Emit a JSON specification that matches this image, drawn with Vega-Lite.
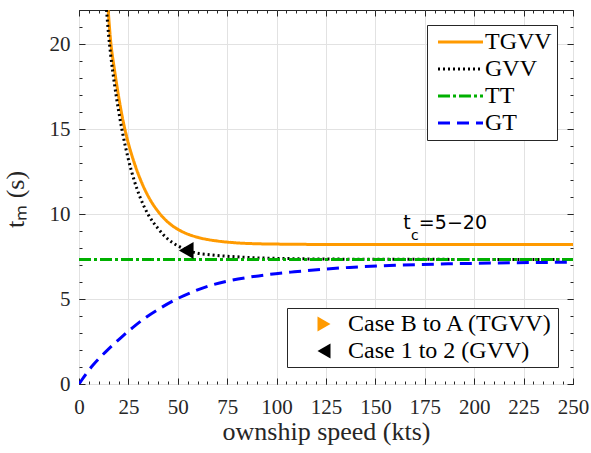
{
  "$schema": "https://vega.github.io/schema/vega-lite/v6.json",
  "width": 494,
  "height": 374,
  "autosize": "none",
  "padding": {"left": 79, "top": 10, "right": 18, "bottom": 69},
  "background": "#ffffff",
  "config": {
    "view": {"stroke": "#262626", "strokeWidth": 1},
    "axis": {
      "labelFont": "Liberation Serif",
      "titleFont": "Liberation Serif",
      "labelFontSize": 21,
      "titleFontSize": 26,
      "titleFontWeight": "normal",
      "labelColor": "#262626",
      "titleColor": "#262626",
      "tickColor": "#262626",
      "tickWidth": 1,
      "gridColor": "#e2e2e2",
      "gridWidth": 1,
      "domain": false,
      "labelFlush": false
    }
  },
  "datasets": {
    "curves": [
      {"speed": 14.4, "t": 22.6, "series": "TGVV"},
      {"speed": 16, "t": 20.2, "series": "TGVV"},
      {"speed": 18, "t": 18.45, "series": "TGVV"},
      {"speed": 20, "t": 16.95, "series": "TGVV"},
      {"speed": 22, "t": 15.65, "series": "TGVV"},
      {"speed": 25, "t": 14.15, "series": "TGVV"},
      {"speed": 28, "t": 13.0, "series": "TGVV"},
      {"speed": 31, "t": 12.05, "series": "TGVV"},
      {"speed": 35, "t": 11.05, "series": "TGVV"},
      {"speed": 40, "t": 10.15, "series": "TGVV"},
      {"speed": 45, "t": 9.52, "series": "TGVV"},
      {"speed": 50, "t": 9.1, "series": "TGVV"},
      {"speed": 55, "t": 8.82, "series": "TGVV"},
      {"speed": 60, "t": 8.63, "series": "TGVV"},
      {"speed": 65, "t": 8.5, "series": "TGVV"},
      {"speed": 70, "t": 8.41, "series": "TGVV"},
      {"speed": 80, "t": 8.3, "series": "TGVV"},
      {"speed": 90, "t": 8.25, "series": "TGVV"},
      {"speed": 100, "t": 8.23, "series": "TGVV"},
      {"speed": 125, "t": 8.21, "series": "TGVV"},
      {"speed": 150, "t": 8.21, "series": "TGVV"},
      {"speed": 200, "t": 8.21, "series": "TGVV"},
      {"speed": 250, "t": 8.21, "series": "TGVV"},
      {"speed": 13.5, "t": 22.6, "series": "GVV"},
      {"speed": 14, "t": 21.9, "series": "GVV"},
      {"speed": 15, "t": 20.5, "series": "GVV"},
      {"speed": 16, "t": 19.4, "series": "GVV"},
      {"speed": 18, "t": 17.6, "series": "GVV"},
      {"speed": 20, "t": 16.1, "series": "GVV"},
      {"speed": 22, "t": 14.8, "series": "GVV"},
      {"speed": 25, "t": 13.21, "series": "GVV"},
      {"speed": 28, "t": 11.95, "series": "GVV"},
      {"speed": 31, "t": 10.96, "series": "GVV"},
      {"speed": 35, "t": 9.97, "series": "GVV"},
      {"speed": 40, "t": 9.15, "series": "GVV"},
      {"speed": 45, "t": 8.52, "series": "GVV"},
      {"speed": 50, "t": 8.13, "series": "GVV"},
      {"speed": 55, "t": 7.86, "series": "GVV"},
      {"speed": 60, "t": 7.69, "series": "GVV"},
      {"speed": 65, "t": 7.62, "series": "GVV"},
      {"speed": 70, "t": 7.56, "series": "GVV"},
      {"speed": 80, "t": 7.48, "series": "GVV"},
      {"speed": 90, "t": 7.42, "series": "GVV"},
      {"speed": 100, "t": 7.39, "series": "GVV"},
      {"speed": 125, "t": 7.35, "series": "GVV"},
      {"speed": 150, "t": 7.34, "series": "GVV"},
      {"speed": 200, "t": 7.33, "series": "GVV"},
      {"speed": 250, "t": 7.33, "series": "GVV"},
      {"speed": 0, "t": 7.33, "series": "TT"},
      {"speed": 250, "t": 7.33, "series": "TT"},
      {"speed": 0, "t": 0, "series": "GT"},
      {"speed": 7, "t": 1.1, "series": "GT"},
      {"speed": 14, "t": 1.95, "series": "GT"},
      {"speed": 21, "t": 2.7, "series": "GT"},
      {"speed": 27, "t": 3.3, "series": "GT"},
      {"speed": 34, "t": 3.93, "series": "GT"},
      {"speed": 42, "t": 4.52, "series": "GT"},
      {"speed": 50, "t": 5.03, "series": "GT"},
      {"speed": 59, "t": 5.49, "series": "GT"},
      {"speed": 67, "t": 5.81, "series": "GT"},
      {"speed": 76, "t": 6.07, "series": "GT"},
      {"speed": 86, "t": 6.28, "series": "GT"},
      {"speed": 95, "t": 6.43, "series": "GT"},
      {"speed": 109, "t": 6.6, "series": "GT"},
      {"speed": 125, "t": 6.76, "series": "GT"},
      {"speed": 137, "t": 6.86, "series": "GT"},
      {"speed": 160, "t": 6.98, "series": "GT"},
      {"speed": 188, "t": 7.07, "series": "GT"},
      {"speed": 220, "t": 7.13, "series": "GT"},
      {"speed": 250, "t": 7.17, "series": "GT"}
    ],
    "cases": [
      {"speed": 54.25, "t": 7.86, "case": "Case 1 to 2 (GVV)"}
    ],
    "note": [
      {"speed": 164.1, "t": 9.13, "label": "t"},
      {"speed": 172.0, "t": 9.13, "label": "=5−20"}
    ],
    "noteSub": [
      {"speed": 168.0, "t": 8.45, "label": "c"}
    ]
  },
  "resolve": {"axis": {"x": "independent", "y": "independent"}},
  "layer": [
    {
      "data": {"name": "curves"},
      "mark": {"type": "line", "strokeWidth": 3, "clip": true, "interpolate": "monotone"},
      "encoding": {
        "x": {
          "field": "speed", "type": "quantitative",
          "scale": {"domain": [0, 250], "nice": false, "zero": false},
          "axis": {"orient": "bottom", "values": [0, 25, 50, 75, 100, 125, 150, 175, 200, 225, 250], "grid": true, "tickSize": -6, "labelPadding": 35, "labelBaseline": "alphabetic", "title": "ownship speed (kts)", "titleY": 55, "titleBaseline": "alphabetic"}
        },
        "y": {
          "field": "t", "type": "quantitative",
          "scale": {"domain": [0, 22], "nice": false, "zero": false},
          "axis": {"orient": "left", "values": [0, 5, 10, 15, 20], "grid": true, "tickSize": -6, "labelPadding": 15, "title": "tₘ (s)", "titleX": -56, "titleY": 189, "titleAngle": 270, "titleAlign": "center", "titleBaseline": "alphabetic"}
        },
        "stroke": {
          "field": "series", "type": "nominal",
          "scale": {"domain": ["TGVV", "GVV", "TT", "GT"], "range": ["#ff9a00", "#000000", "#00b000", "#0000ff"]},
          "legend": {"title": null, "orient": "none", "legendX": 348, "legendY": 15, "symbolType": "M-1,0H3.5", "symbolSize": 400, "symbolStrokeWidth": 3, "labelFont": "Liberation Serif", "labelFontSize": 24, "labelColor": "#000000", "labelLimit": 0, "padding": 5, "rowPadding": 3, "labelOffset": 25, "symbolOffset": 4, "strokeColor": "#262626", "fillColor": "#ffffff"}
        },
        "strokeDash": {
          "field": "series", "type": "nominal",
          "scale": {"domain": ["TGVV", "GVV", "TT", "GT"], "range": [[1, 0], [2, 3], [12, 3, 3, 3], [12, 7]]},
          "legend": {"title": null, "orient": "none", "legendX": 348, "legendY": 15, "symbolType": "M-1,0H3.5", "symbolSize": 400, "symbolStrokeWidth": 3, "labelFont": "Liberation Serif", "labelFontSize": 24, "labelColor": "#000000", "labelLimit": 0, "padding": 5, "rowPadding": 3, "labelOffset": 25, "symbolOffset": 4, "strokeColor": "#262626", "fillColor": "#ffffff"}
        }
      }
    },
    {
      "data": {"name": "cases"},
      "mark": {"type": "point", "filled": true, "size": 289, "opacity": 1},
      "encoding": {
        "x": {"field": "speed", "type": "quantitative", "axis": {"orient": "bottom", "values": [0,5,10,15,20,25,30,35,40,45,50,55,60,65,70,75,80,85,90,95,100,105,110,115,120,125,130,135,140,145,150,155,160,165,170,175,180,185,190,195,200,205,210,215,220,225,230,235,240,245,250], "grid": false, "labels": false, "tickSize": -3, "title": null}},
        "y": {"field": "t", "type": "quantitative", "axis": {"orient": "left", "values": [0,1,2,3,4,5,6,7,8,9,10,11,12,13,14,15,16,17,18,19,20,21,22], "grid": false, "labels": false, "tickSize": -3, "title": null}},
        "fill": {
          "field": "case", "type": "nominal",
          "scale": {"domain": ["Case B to A (TGVV)", "Case 1 to 2 (GVV)"], "range": ["#ff9a00", "#000000"]},
          "legend": {"title": null, "orient": "none", "legendX": 208, "legendY": 298, "symbolSize": 225, "symbolStrokeWidth": 0, "labelFont": "Liberation Serif", "labelFontSize": 24, "labelColor": "#000000", "labelLimit": 0, "padding": 4, "rowPadding": 3, "symbolOffset": 21, "labelOffset": 12, "strokeColor": "#262626", "fillColor": "#ffffff"}
        },
        "shape": {
          "field": "case", "type": "nominal",
          "scale": {"domain": ["Case B to A (TGVV)", "Case 1 to 2 (GVV)"], "range": ["triangle-right", "triangle-left"]},
          "legend": {"title": null, "orient": "none", "legendX": 208, "legendY": 298, "symbolSize": 225, "symbolStrokeWidth": 0, "labelFont": "Liberation Serif", "labelFontSize": 24, "labelColor": "#000000", "labelLimit": 0, "padding": 4, "rowPadding": 3, "symbolOffset": 21, "labelOffset": 12, "strokeColor": "#262626", "fillColor": "#ffffff"}
        }
      }
    },
    {
      "data": {"name": "note"},
      "mark": {"type": "text", "font": "DejaVu Sans", "fontSize": 19, "align": "left", "baseline": "alphabetic", "color": "#000000"},
      "encoding": {
        "x": {"field": "speed", "type": "quantitative", "axis": {"orient": "top", "values": [0, 25, 50, 75, 100, 125, 150, 175, 200, 225, 250], "grid": false, "labels": false, "tickSize": -6, "title": null}},
        "y": {"field": "t", "type": "quantitative", "axis": {"orient": "right", "values": [0, 5, 10, 15, 20], "grid": false, "labels": false, "tickSize": -6, "title": null}},
        "text": {"field": "label"}
      }
    },
    {
      "data": {"name": "noteSub"},
      "mark": {"type": "text", "font": "DejaVu Sans", "fontSize": 14, "align": "left", "baseline": "alphabetic", "color": "#000000"},
      "encoding": {
        "x": {"field": "speed", "type": "quantitative", "axis": {"orient": "top", "values": [0,5,10,15,20,25,30,35,40,45,50,55,60,65,70,75,80,85,90,95,100,105,110,115,120,125,130,135,140,145,150,155,160,165,170,175,180,185,190,195,200,205,210,215,220,225,230,235,240,245,250], "grid": false, "labels": false, "tickSize": -3, "title": null}},
        "y": {"field": "t", "type": "quantitative", "axis": {"orient": "right", "values": [0,1,2,3,4,5,6,7,8,9,10,11,12,13,14,15,16,17,18,19,20,21,22], "grid": false, "labels": false, "tickSize": -3, "title": null}},
        "text": {"field": "label"}
      }
    }
  ]
}
